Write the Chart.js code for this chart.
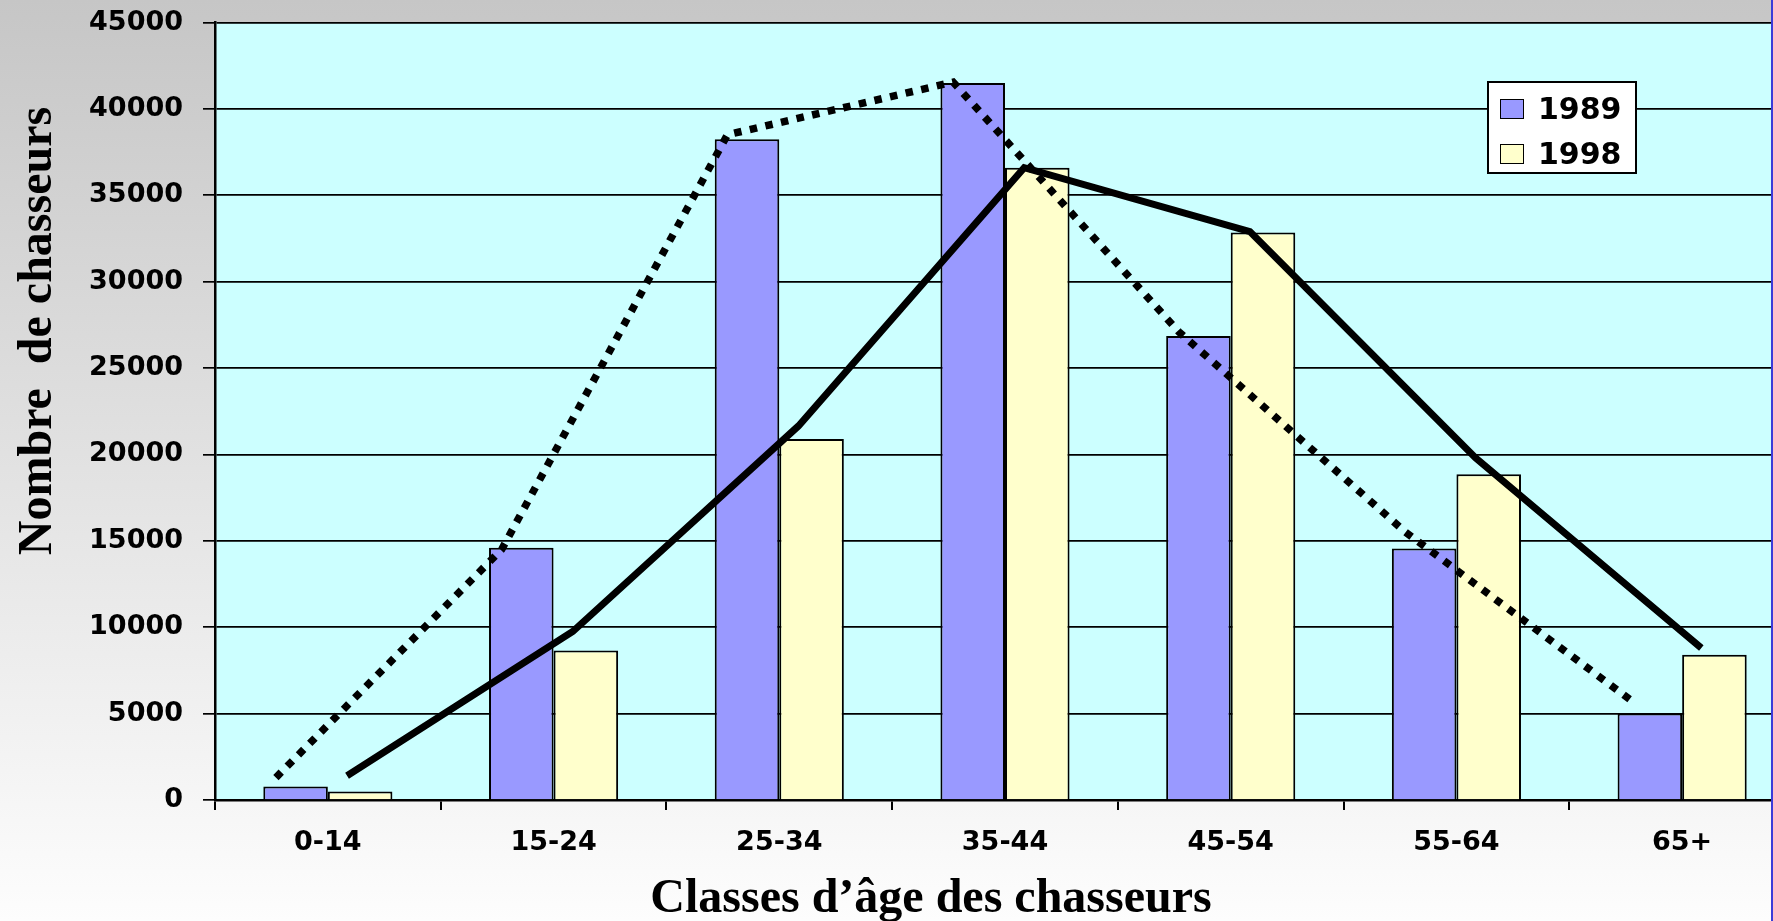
<!DOCTYPE html>
<html lang="fr">
<head>
<meta charset="utf-8">
<title>Classes d'âge des chasseurs</title>
<script src="https://cdn.jsdelivr.net/npm/chart.js@4.4.1/dist/chart.umd.min.js"></script>
<style>
    html, body { margin: 0; padding: 0; }
    body {
        width: 1773px;
        height: 921px;
        overflow: hidden;
        position: relative;
        background: linear-gradient(to bottom, #c6c6c6 0%, #fdfdfd 100%);
    }
    #wrap { position: absolute; left: 0; top: 0; width: 1800px; height: 921px; }
    #edge { position: absolute; right: 0; top: 0; width: 2px; height: 921px; background: #3c3cd8; }
    #legend {
        position: absolute;
        left: 1487px;
        top: 81px;
        width: 146px;
        height: 89px;
        background: #fff;
        border: 2px solid #000;
        font: bold 30px "DejaVu Sans", sans-serif;
        color: #000;
    }
    #legend .item {
        position: absolute;
        left: 11px;
        height: 45px;
        display: flex;
        align-items: center;
    }
    #legend .swatch {
        width: 22px;
        height: 18px;
        border: 1.5px solid #000;
        margin-right: 14px;
    }
</style>
</head>
<body>
<div id="wrap"><canvas id="chart"></canvas></div>
<div id="legend"></div>
<div id="edge"></div>

<script>
// Data
const categories = ['0-14', '15-24', '25-34', '35-44', '45-54', '55-64', '65+'];
const seriesNames = ['1989', '1998'];
const hunters1989 = [780, 14600, 38250, 41500, 26850, 14550, 5000];
const hunters1998 = [490, 8650, 20900, 36600, 32850, 18850, 8400];
// hand drawn trend lines over the bars
const trend1989 = [1300, 14500, 38500, 41550, 27100, 15550, 5800];
const trend1998 = [1400, 9750, 21650, 36600, 32900, 19800, 8800];
const yTicks = [0, 5000, 10000, 15000, 20000, 25000, 30000, 35000, 40000, 45000];

const xTitle = 'Classes d\u2019âge des chasseurs';
const yTitle = 'Nombre  de chasseurs';

const colors = ['#9999ff', '#ffffcc'];
// trend points sit a bit off the category centre (in category units)
const shift1989 = -0.23;
const shift1998 = 0.085;

const tickFont = size => ({ family: 'DejaVu Sans', weight: 'bold', size: size });

// Plot area background
const plotBackground = {
    id: 'plotBackground',
    beforeDraw(chart) {
        const { ctx, chartArea: a } = chart;
        ctx.save();
        ctx.fillStyle = '#ccffff';
        ctx.fillRect(a.left, a.top, a.right - a.left, a.bottom - a.top);
        ctx.restore();
    }
};

// Axis titles (not centred on the axes in the original)
const axisTitles = {
    id: 'axisTitles',
    afterDraw(chart) {
        const ctx = chart.ctx;
        ctx.save();
        ctx.fillStyle = '#000';
        ctx.font = 'bold 48px "Liberation Serif", serif';
        ctx.textAlign = 'center';
        ctx.textBaseline = 'alphabetic';
        ctx.fillText(xTitle, 931, 912);
        ctx.translate(51, 331);
        ctx.rotate(-Math.PI / 2);
        ctx.fillText(yTitle, 0, 0);
        ctx.restore();
    }
};

// category index + shift, already in the scale's own units (parsing: false)
const toPoints = (values, shift) => values.map((v, i) => ({ x: i + shift, y: v }));

// no extra room for the outer tick labels
const noPadding = scale => {
    scale.paddingTop = 0;
    scale.paddingBottom = 0;
    scale.paddingLeft = 0;
    scale.paddingRight = 0;
};

const ctx = document.getElementById('chart').getContext('2d');
const chart = new Chart(ctx, {
    data: {
        labels: categories,
        datasets: [
            {
                type: 'bar',
                label: seriesNames[0],
                data: hunters1989,
                backgroundColor: colors[0],
                borderColor: '#000',
                borderWidth: 2,
                categoryPercentage: 0.572,
                barPercentage: 1,
                order: 1
            },
            {
                type: 'bar',
                label: seriesNames[1],
                data: hunters1998,
                backgroundColor: colors[1],
                borderColor: '#000',
                borderWidth: 2,
                categoryPercentage: 0.572,
                barPercentage: 1,
                order: 1
            },
            {
                type: 'line',
                label: 'tendance ' + seriesNames[0],
                data: toPoints(trend1989, shift1989),
                parsing: false,
                borderColor: '#000',
                borderWidth: 7.5,
                borderDash: [7.5, 8.5],
                borderCapStyle: 'butt',
                tension: 0,
                pointRadius: 0,
                order: 0
            },
            {
                type: 'line',
                label: 'tendance ' + seriesNames[1],
                data: toPoints(trend1998, shift1998),
                parsing: false,
                borderColor: '#000',
                borderWidth: 7,
                borderCapStyle: 'butt',
                tension: 0,
                pointRadius: 0,
                order: 0
            }
        ]
    },
    options: {
        responsive: true,
        maintainAspectRatio: false,
        animation: false,
        layout: { padding: { top: 22.5, right: 5, left: 0, bottom: 0 } },
        plugins: {
            legend: { display: false },
            tooltip: { enabled: false }
        },
        scales: {
            x: {
                type: 'category',
                afterFit(scale) { scale.height = 121; noPadding(scale); },
                ticks: { color: '#000', font: tickFont(27), padding: 17, maxRotation: 0 },
                grid: { drawOnChartArea: false, color: '#000', lineWidth: 2, tickLength: 10 },
                border: { color: '#000', width: 2.5 }
            },
            y: {
                min: 0,
                max: 45000,
                afterFit(scale) { scale.width = 215; noPadding(scale); },
                afterBuildTicks(scale) { scale.ticks = yTicks.map(v => ({ value: v })); },
                ticks: { color: '#000', font: tickFont(27), padding: 20, callback: v => String(v) },
                grid: { color: '#000', lineWidth: 1.7, tickLength: 12 },
                border: { color: '#000', width: 2.5 }
            }
        }
    },
    plugins: [plotBackground, axisTitles]
});

// Legend box
const legend = document.getElementById('legend');
seriesNames.forEach((name, i) => {
    const item = document.createElement('div');
    item.className = 'item';
    item.style.top = (3 + i * 45) + 'px';
    const swatch = document.createElement('span');
    swatch.className = 'swatch';
    swatch.style.background = colors[i];
    const text = document.createElement('span');
    text.textContent = name;
    item.appendChild(swatch);
    item.appendChild(text);
    legend.appendChild(item);
});
</script>
</body>
</html>
